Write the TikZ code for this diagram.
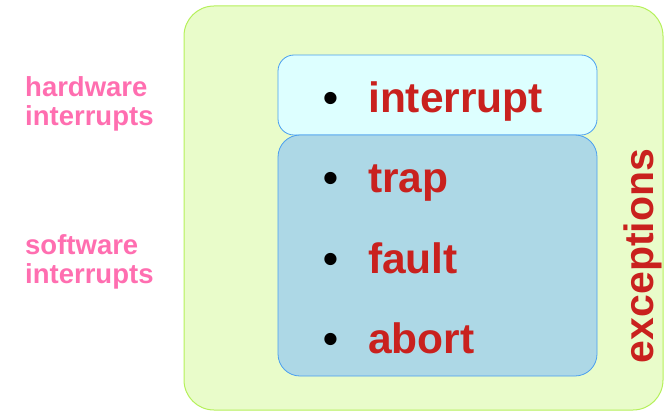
\documentclass[tikz,border=0pt]{standalone}
\usepackage{fontspec}
\setmainfont{Liberation Sans}
\definecolor{outerfill}{HTML}{E9FCCA}
\definecolor{outerline}{HTML}{B5F05A}
\definecolor{topfill}{HTML}{DDFFFF}
\definecolor{botfill}{HTML}{ADD8E6}
\definecolor{boxline}{HTML}{4A9FF0}
\definecolor{itemred}{HTML}{C9211E}
\definecolor{pinklbl}{HTML}{FF6EB0}
\tikzset{
  item/.style={anchor=base west, inner sep=0pt, font=\fontsize{42.5}{42.5}\selectfont\bfseries, text=itemred},
  side/.style={anchor=base west, inner sep=0pt, font=\fontsize{27.5}{29}\selectfont\bfseries, text=pinklbl, align=left},
}
\newcommand{\bul}{\makebox[45pt][l]{\textcolor{black}{•}}}
\begin{document}
\begin{tikzpicture}[x=1pt,y=-1pt]
\useasboundingbox (0,0) rectangle (668,412);
\draw[fill=outerfill, draw=outerline, line width=1pt, rounded corners=30pt] (184,6) rectangle (663,410);
\draw[fill=topfill, draw=boxline, line width=0.8pt, rounded corners=16pt] (278,55) rectangle (597,135);
\draw[fill=botfill, draw=boxline, line width=0.8pt, rounded corners=22pt] (278,135) rectangle (597,376);
\node[item] (interrupt) at (323,112) {\bul interrupt};
\node[item] (trap) at (323,192) {\bul trap};
\node[item] (fault) at (323,273) {\bul fault};
\node[item] (abort) at (323,353) {\bul abort};
\node[anchor=base, inner sep=0pt, rotate=90, font=\fontsize{41}{41}\selectfont\bfseries, text=itemred] (exc) at (653,256) {exceptions};
\node[side] (hw) at (25,125) {hardware\\interrupts};
\node[side] (sw) at (25,283) {software\\interrupts};
\end{tikzpicture}
\end{document}
